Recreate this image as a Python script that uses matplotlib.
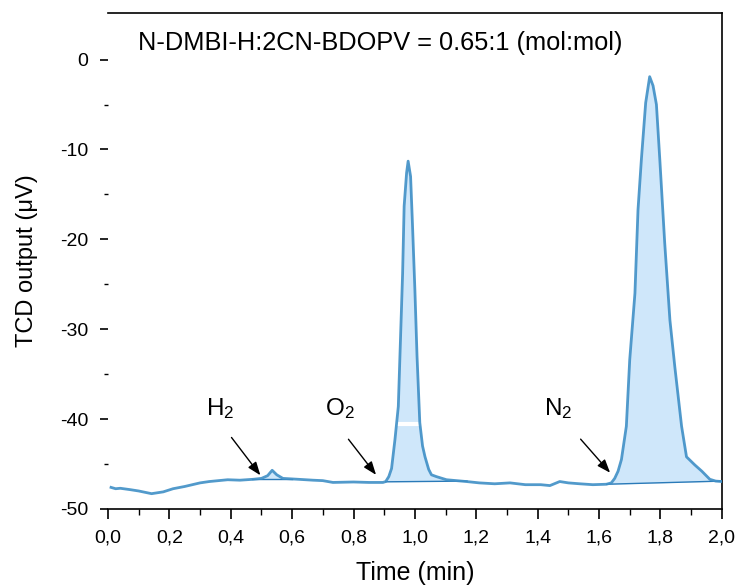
import matplotlib
matplotlib.use("Agg")
import matplotlib.pyplot as plt
from matplotlib.ticker import MultipleLocator, FixedLocator, FuncFormatter
import numpy as np

plt.rcParams['font.family'] = ['Liberation Sans', 'DejaVu Sans']
plt.rcParams['mathtext.default'] = 'regular'
plt.rcParams['axes.unicode_minus'] = False

# chromatogram trace (time in min, TCD signal in uV)
time = [0.01, 0.025, 0.04, 0.072, 0.10, 0.142, 0.18, 0.212, 0.25, 0.30, 0.33,
        0.36, 0.39, 0.43, 0.473, 0.50, 0.52, 0.535, 0.55, 0.57, 0.62, 0.668,
        0.70, 0.733, 0.80, 0.85, 0.896, 0.905, 0.915, 0.924, 0.935, 0.946,
        0.953, 0.96, 0.965, 0.973, 0.978, 0.986, 0.992, 1.0, 1.007, 1.016,
        1.025, 1.033, 1.045, 1.054, 1.07, 1.103, 1.168, 1.21, 1.26, 1.31,
        1.36, 1.41, 1.44, 1.472, 1.50, 1.537, 1.58, 1.624, 1.64, 1.651,
        1.662, 1.673, 1.689, 1.70, 1.717, 1.727, 1.738, 1.752, 1.765, 1.776,
        1.787, 1.798, 1.814, 1.831, 1.847, 1.869, 1.885, 1.912, 1.935, 1.961,
        1.98, 2.0]
signal = [-47.6, -47.75, -47.7, -47.85, -48.0, -48.3, -48.1, -47.75, -47.5,
          -47.1, -46.95, -46.85, -46.75, -46.8, -46.7, -46.6, -46.3, -45.7,
          -46.2, -46.6, -46.7, -46.8, -46.85, -47.05, -47.0, -47.05, -47.05,
          -46.95, -46.4, -45.5, -42.3, -38.6, -31.2, -23.8, -16.3, -12.6,
          -11.3, -13.0, -18.2, -25.6, -33.0, -40.4, -43.0, -44.2, -45.6,
          -46.2, -46.4, -46.75, -46.95, -47.1, -47.2, -47.1, -47.3, -47.3,
          -47.4, -46.95, -47.1, -47.2, -47.3, -47.25, -47.1, -46.6, -45.8,
          -44.5, -40.8, -33.4, -26.0, -16.7, -11.1, -4.8, -1.9, -2.9, -5.0,
          -11.1, -20.4, -29.0, -34.2, -40.8, -44.2, -45.1, -45.8, -46.7,
          -46.9, -46.95]

# integration baselines: (start time, start value, end time, end value)
baselines = [(0.47, -46.7, 0.60, -46.7),
             (0.905, -46.98, 1.17, -46.9),
             (1.625, -47.25, 2.0, -46.9)]

peak_labels = ['H$_2$', 'O$_2$', 'N$_2$']
label_pos = [(0.365, -38.8), (0.756, -38.8), (1.466, -38.8)]
arrow_tail = [(0.397, -41.8), (0.778, -42.0), (1.534, -42.0)]
arrow_head = [(0.502, -46.5), (0.879, -46.45), (1.642, -46.2)]

title = 'N-DMBI-H:2CN-BDOPV = 0.65:1 (mol:mol)'

line_col = '#3f8fc6'
fill_col = '#cfe7fa'

fig = plt.figure(figsize=(7.36, 5.85), dpi=100)
ax = fig.add_axes([0.1467, 0.13, 0.834, 0.848])

t = np.array(time)
s = np.array(signal)
for t0, v0, t1, v1 in baselines:
    m = (t >= t0) & (t <= t1)
    base = np.interp(t[m], [t0, t1], [v0, v1])
    ax.fill_between(t[m], s[m], base, color=fill_col, lw=0, zorder=1)
    ax.plot([t0, t1], [v0, v1], color='#2a7ab8', lw=1.0, zorder=3)

# small white gap visible in the O2 peak fill
ax.plot([0.949, 1.013], [-40.6, -40.6], color='white', lw=3, zorder=2)

ax.plot(t, s, color=line_col, lw=2.0, alpha=0.9, zorder=4)

for lab, lp, at, ah in zip(peak_labels, label_pos, arrow_tail, arrow_head):
    ax.text(lp[0], lp[1], lab, fontsize=17.5, ha='center', va='center')
    ax.annotate('', xy=ah, xytext=at,
                arrowprops=dict(arrowstyle='-|>,head_length=0.8,head_width=0.3',
                                color='black', lw=1.0))

ax.text(0.444, 0.94, title, transform=ax.transAxes, fontsize=18.3,
        ha='center', va='center')

ax.set_xlim(0, 2.0)
ax.set_ylim(-50, 5.2)
ax.xaxis.set_major_locator(MultipleLocator(0.2))
ax.xaxis.set_minor_locator(MultipleLocator(0.1))
ax.yaxis.set_major_locator(FixedLocator([-50, -40, -30, -20, -10, 0]))
ax.yaxis.set_minor_locator(FixedLocator([-45, -35, -25, -15, -5]))
ax.xaxis.set_major_formatter(FuncFormatter(lambda v, p: f'{v:.1f}'.replace('.', ',')))
ax.yaxis.set_major_formatter(FuncFormatter(lambda v, p: f'{v:.0f}'))

ax.spines['left'].set_visible(False)
for sp in ['top', 'right', 'bottom']:
    ax.spines[sp].set_linewidth(1.2)

ax.tick_params(axis='x', which='major', direction='out', length=7, width=1.2,
               labelsize=14, pad=8)
ax.tick_params(axis='x', which='minor', direction='out', length=4, width=1.0)
ax.tick_params(axis='y', which='major', direction='out', length=6, width=1.2,
               labelsize=14, pad=8)
ax.tick_params(axis='y', which='minor', direction='out', length=3, width=1.0)

ax.set_xlabel('Time (min)', fontsize=18, labelpad=10)
ax.set_ylabel('TCD output (μV)', fontsize=17, labelpad=16)

fig.savefig('out.png', dpi=100)
